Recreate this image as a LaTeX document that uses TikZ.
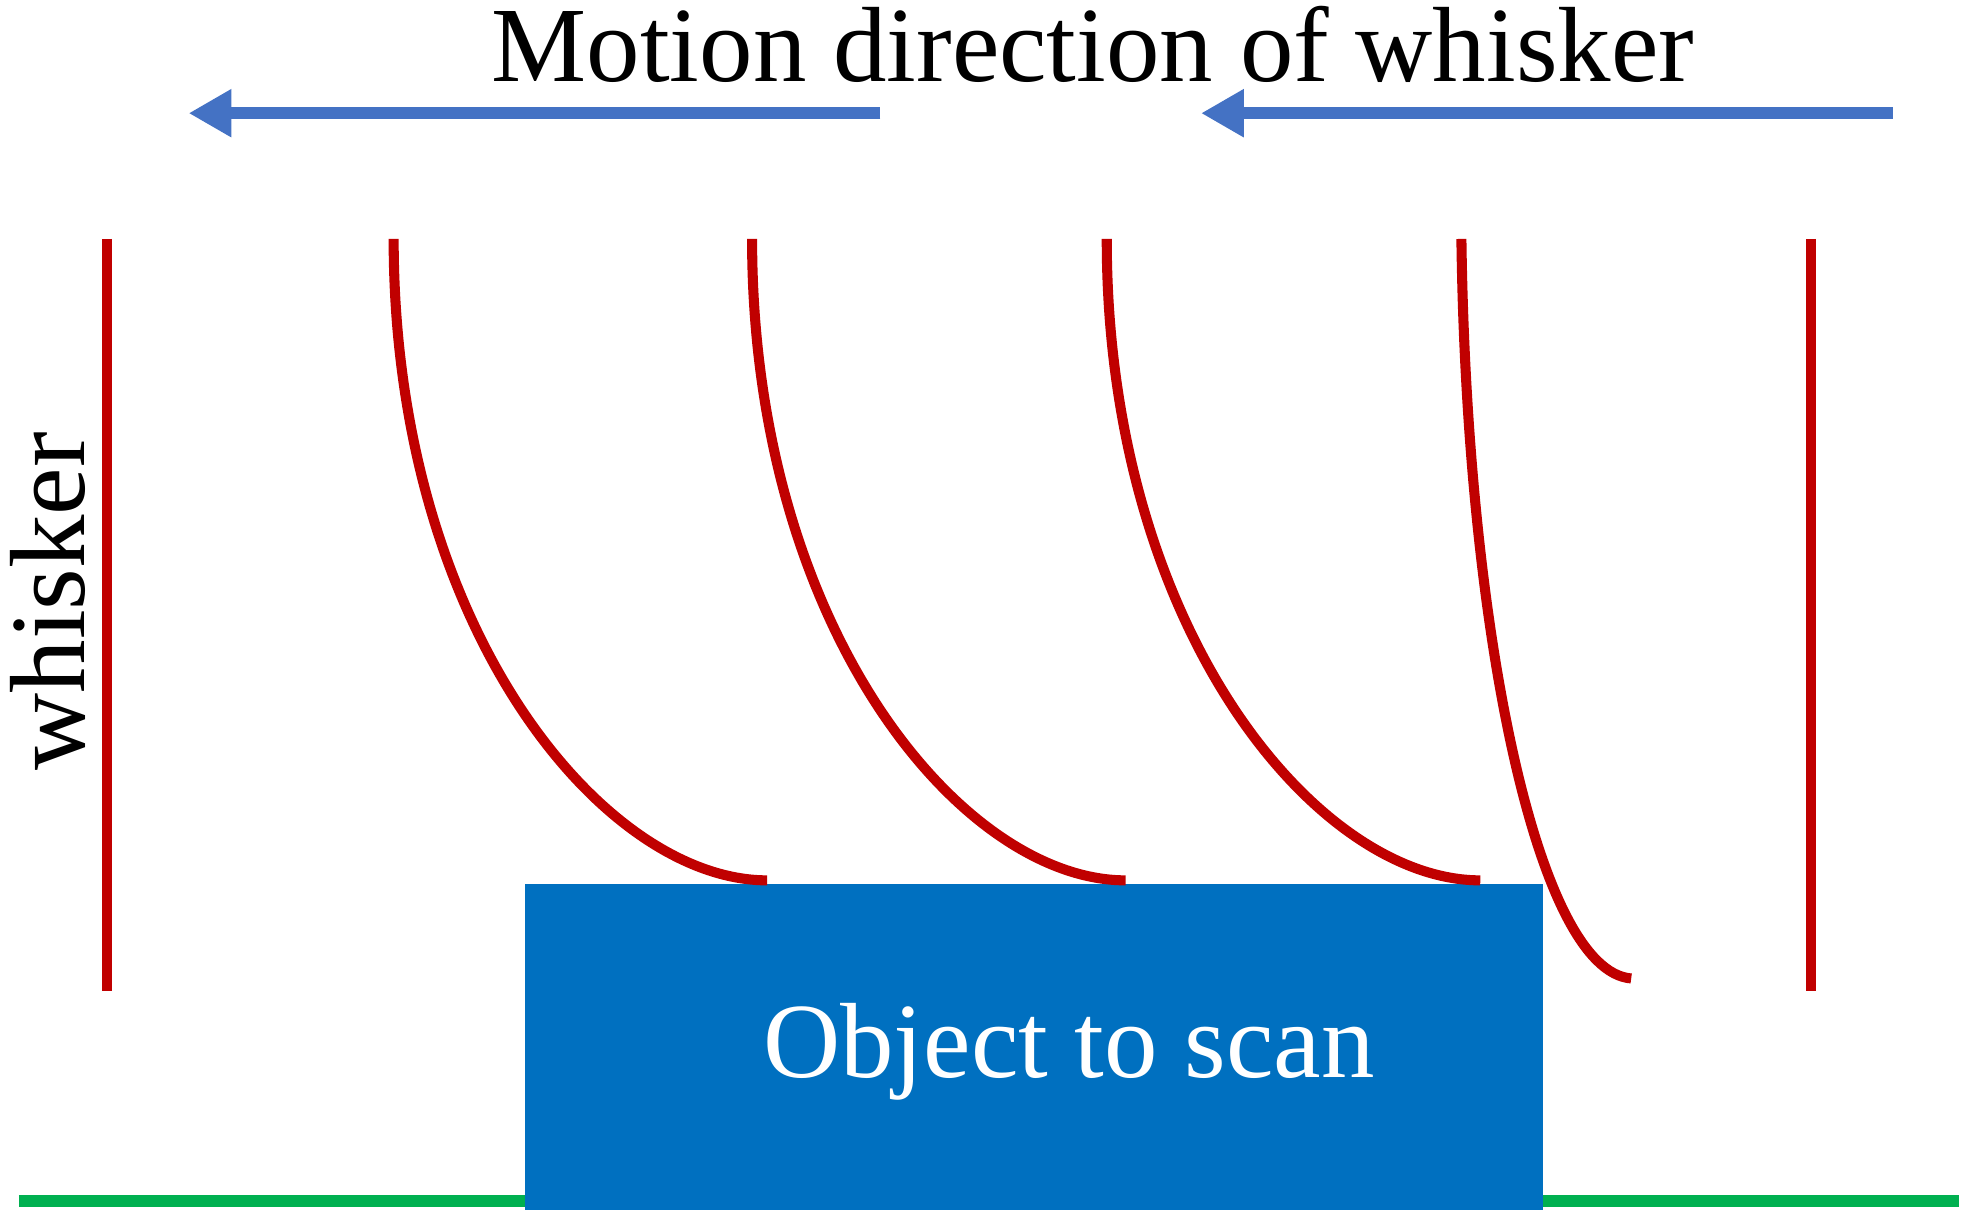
\documentclass[tikz,border=0pt]{standalone}
\usepackage{fontspec}
\setmainfont{Liberation Serif}
\usetikzlibrary{arrows.meta}
\definecolor{arrowblue}{HTML}{4472C4}
\definecolor{boxblue}{HTML}{0070C0}
\definecolor{whiskred}{HTML}{C00000}
\definecolor{groundgreen}{HTML}{00B050}
\begin{document}
\begin{tikzpicture}[x=1pt,y=-1pt,
  bigtext/.style={font=\fontsize{85}{92}\selectfont, inner sep=0pt},
  motionarrow/.style={arrowblue, line width=10pt, -{Triangle[length=34pt,width=36pt]}},
  whiskerline/.style={whiskred, line width=8pt},
  ground/.style={groundgreen, line width=10pt}]
\useasboundingbox (0,0) rectangle (1568,974);
% ground
\coordinate (g1) at (15,955);
\coordinate (g2) at (1558,955);
\draw[ground] (g1) -- (g2);
% object
\node[fill=boxblue, draw=none, minimum width=810pt, minimum height=259pt, inner sep=0pt, anchor=north west] (obj) at (417,703) {};
\node[bigtext, text=white, anchor=base] (objlabel) at (850,857) {Object to scan};
% title
\node[bigtext, anchor=base] (title) at (869,65) {Motion direction of whisker};
% arrows
\coordinate (a1s) at (700,90);
\coordinate (a1e) at (150,90);
\coordinate (a2s) at (1505,90);
\coordinate (a2e) at (955,90);
\draw[motionarrow] (a1s) -- (a1e);
\draw[motionarrow] (a2s) -- (a2e);
% whiskers
\coordinate (w0t) at (85,190);
\coordinate (w0b) at (85,788);
\draw[whiskerline] (w0t) -- (w0b);
\coordinate (w5t) at (1440,190);
\coordinate (w5b) at (1440,788);
\draw[whiskerline] (w5t) -- (w5b);
\coordinate (w1t) at (313,190);
\coordinate (w1b) at (610,700);
\draw[whiskerline] (w1t) .. controls (313,500) and (480,700) .. (w1b);
\coordinate (w2t) at (598,190);
\coordinate (w2b) at (895,700);
\draw[whiskerline] (w2t) .. controls (598,500) and (765,700) .. (w2b);
\coordinate (w3t) at (880,190);
\coordinate (w3b) at (1177,700);
\draw[whiskerline] (w3t) .. controls (880,500) and (1047,700) .. (w3b);
\coordinate (w4t) at (1162,190);
\coordinate (w4b) at (1297,778);
\draw[whiskerline] (w4t) .. controls (1166,500) and (1222,772) .. (w4b);
% side label
\node[bigtext, rotate=90, anchor=base] (wlabel) at (67,478) {whisker};
\end{tikzpicture}
\end{document}
